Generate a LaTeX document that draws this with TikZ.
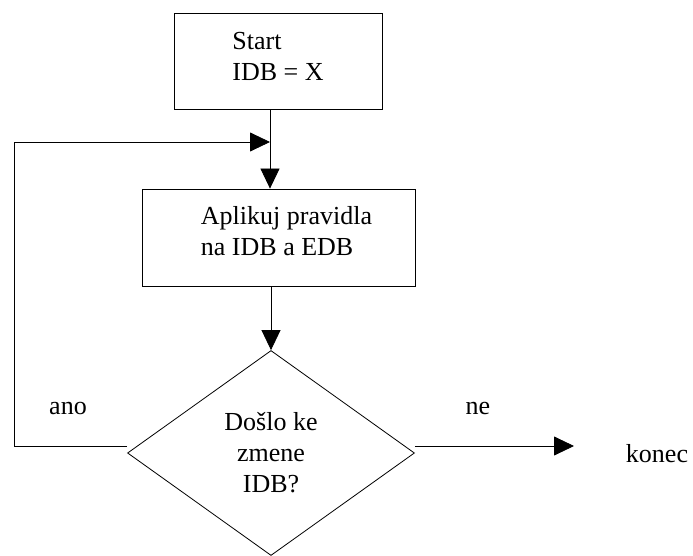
\documentclass[tikz,border=0pt]{standalone}
\usepackage{fontspec}
\setmainfont{Liberation Serif}
\usetikzlibrary{shapes.geometric}
\usetikzlibrary{arrows.meta}
\tikzset{
  stepbox/.style={draw, line width=0.8pt, inner sep=0pt},
  decide/.style={draw, diamond, line width=0.8pt, inner sep=0pt},
  txt/.style={font=\fontsize{26}{31}\selectfont},
  flow/.style={line width=0.8pt, -{Triangle[length=20pt,width=19pt]}},
}

\begin{document}
\begin{tikzpicture}[x=1pt, y=-1pt, txt]%
        \useasboundingbox (0,0) rectangle (693,556);%
        \node[stepbox, minimum width=208pt, minimum height=96pt,
              label={[yshift=5pt, align=left, txt]center:Start\\IDB = X}] (start) at (278,61) {};%
        \node[stepbox, minimum width=273pt, minimum height=97pt,
              label={[xshift=8pt, yshift=6pt, align=left, txt]center:Aplikuj pravidla\\na IDB a EDB}] (apply) at (278.5,237.5) {};%
        \node[decide, minimum width=287pt, minimum height=205pt, align=center] (test) at (271,453) {Do\v{s}lo ke\\zmene\\IDB?};%
        \coordinate (end) at (574,446);%
        \coordinate (back) at (14,446);%
        \coordinate (join) at (14,142);%
        \node (yes) at (68,408) {ano};%
        \node (no) at (478,408) {ne};%
        \node (konec) at (657,454) {konec};%
        \draw[flow] (start.south -| 270,0) -- (apply.north -| 270,0); %
        \draw[flow] (test.west |- back) -- (back) -- (join) -- (join -| 270,0); %
        \draw[flow] (apply.south -| 271,0) -- (test.north); %
        \draw[flow] (test.east |- end) -- (end); %
      \end{tikzpicture}
\end{document}
